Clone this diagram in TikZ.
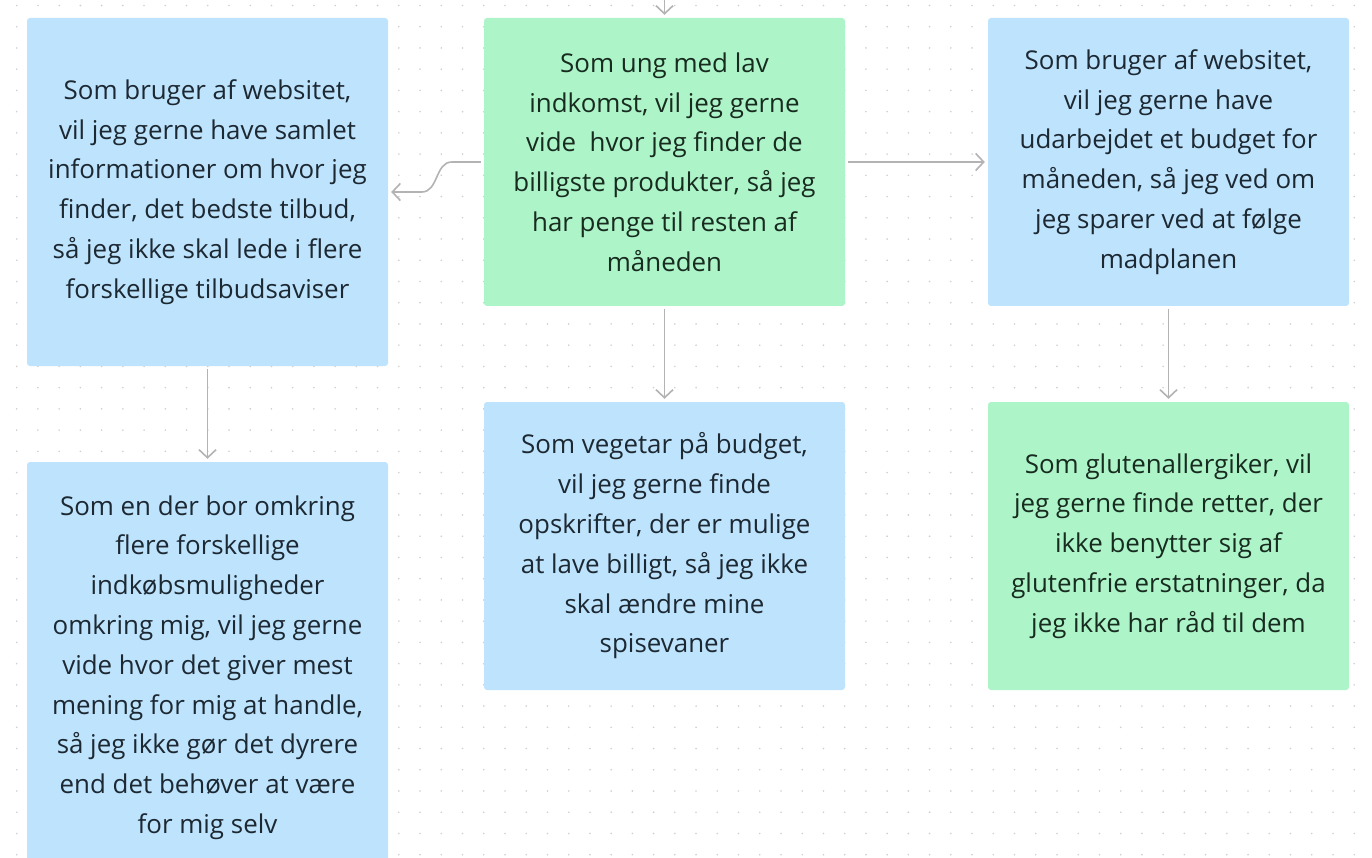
\documentclass[tikz,border=0pt]{standalone}
\usepackage{fontspec}
\setmainfont{Open Sans}
\usetikzlibrary{arrows.meta}
\definecolor{bluebox}{HTML}{BEE3FC}
\definecolor{greenbox}{HTML}{ADF4C9}
\definecolor{txtblue}{HTML}{1C2832}
\definecolor{txtgreen}{HTML}{182B1F}
\definecolor{conncol}{HTML}{B3B3B3}
\definecolor{dotcol}{HTML}{CFCFCF}
\tikzset{
  card/.style={rounded corners=3pt, minimum width=361pt, align=center, inner sep=0pt,
    font=\fontsize{25.9}{39.8}\selectfont},
  bluecard/.style={card, fill=bluebox, text=txtblue},
  greencard/.style={card, fill=greenbox, text=txtgreen},
  conn/.style={draw=conncol, line width=1.6pt, shorten >=3pt, shorten <=3pt,
    -{Straight Barb[length=8pt,width=17pt,line width=1.6pt]}},
}
\begin{document}
\begin{tikzpicture}[x=1pt,y=-1pt]
\clip (0,0) rectangle (1372,858);
\fill[white] (0,0) rectangle (1372,858);
% dot grid
\foreach \i in {0,...,64} {
  \foreach \j in {0,...,40} {
    \fill[dotcol] ({16.7+21.23*\i},{5.5+21.23*\j}) circle (0.9pt);
  }
}
\node[greencard, minimum height=288pt] (c1) at (664.5,162) {Som ung med lav\\indkomst, vil jeg gerne\\vide\ \ hvor jeg finder de\\billigste produkter, så jeg\\har penge til resten af\\måneden};
\node[bluecard, minimum height=348pt] (l1) at (207.5,192) {Som bruger af websitet,\\vil jeg gerne have samlet\\informationer om hvor jeg\\finder, det bedste tilbud,\\så jeg ikke skal lede i flere\\forskellige tilbudsaviser};
\node[bluecard, minimum height=288pt] (r1) at (1168.5,162) {Som bruger af websitet,\\vil jeg gerne have\\udarbejdet et budget for\\måneden, så jeg ved om\\jeg sparer ved at følge\\madplanen};
\node[bluecard, minimum height=411pt] (l2) at (207.5,667.5) {Som en der bor omkring\\flere forskellige\\indkøbsmuligheder\\omkring mig, vil jeg gerne\\vide hvor det giver mest\\mening for mig at handle,\\så jeg ikke gør det dyrere\\end det behøver at være\\for mig selv};
\node[bluecard, minimum height=288pt] (c2) at (664.5,546) {Som vegetar på budget,\\vil jeg gerne finde\\opskrifter, der er mulige\\at lave billigt, så jeg ikke\\skal ændre mine\\spisevaner};
\node[greencard, minimum height=288pt] (r2) at (1168.5,546) {Som glutenallergiker, vil\\jeg gerne finde retter, der\\ikke benytter sig af\\glutenfrie erstatninger, da\\jeg ikke har råd til dem};
\coordinate (topin) at (664.5,-20);
% connectors
\draw[conn] (topin) -- (c1.north);
\draw[conn] (c1.west) -- ++(-32,0) to[out=180,in=0] ++(-30,30) -- (l1.east);
\draw[conn] (c1.east) -- (r1.west);
\draw[conn] (c1.south) -- (c2.north);
\draw[conn] (r1.south) -- (r2.north);
\draw[conn] (l1.south) -- (l2.north);
\end{tikzpicture}
\end{document}
